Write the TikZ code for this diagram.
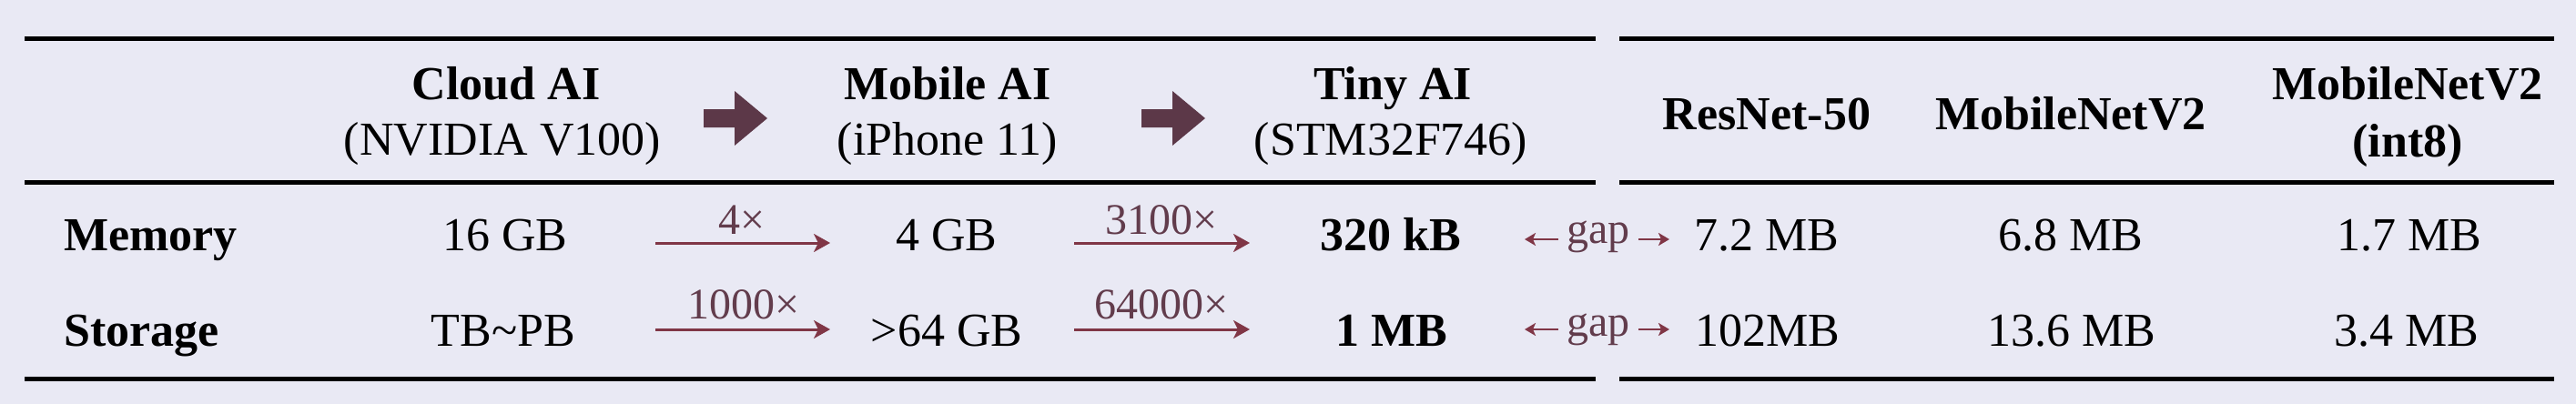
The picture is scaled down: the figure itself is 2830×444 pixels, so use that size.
\documentclass[tikz,border=0pt]{standalone}
\usepackage{fontspec}
\setmainfont{Liberation Serif}
\usetikzlibrary{arrows.meta}
\definecolor{bgc}{RGB}{233,233,244}
\definecolor{blockc}{RGB}{92,56,72}
\definecolor{thinc}{RGB}{128,54,70}
\definecolor{labc}{RGB}{98,60,76}
\tikzset{
  txt/.style={font=\fontsize{52}{60}\selectfont, inner sep=0pt, anchor=base},
  btxt/.style={txt, font=\fontsize{52}{60}\selectfont\bfseries},
  lab/.style={font=\fontsize{48}{56}\selectfont, text=labc, inner sep=0pt, anchor=base},
  rulel/.style={line width=5pt},
  thinarr/.style={thinc, line width=3pt, -{Stealth[length=18pt,width=20pt,inset=5pt]}},
  gaparr/.style={thinc, line width=2.5pt, -{Stealth[length=12pt,width=14pt,inset=3pt]}},
  blockarr/.style={fill=blockc}
}
\begin{document}
\begin{tikzpicture}[x=1pt,y=-1pt]
\fill[bgc] (0,0) rectangle (2830,444);
\useasboundingbox (0,0) rectangle (2830,444);
% rules
\draw[rulel] (27,43) -- (1753,43);
\draw[rulel] (1779,43) -- (2806,43);
\draw[rulel] (27,200) -- (1753,200);
\draw[rulel] (1779,200) -- (2806,200);
\draw[rulel] (27,416) -- (1753,416);
\draw[rulel] (1779,416) -- (2806,416);
% header
\node[btxt] (h1a) at (556,110) {Cloud AI};
\node[txt]  (h1b) at (552,170) {(NVIDIA V100)};
\node[btxt] (h2a) at (1041,110) {Mobile AI};
\node[txt]  (h2b) at (1041,170) {(iPhone 11)};
\node[btxt] (h3a) at (1530,110) {Tiny AI};
\node[txt]  (h3b) at (1528,170) {(STM32F746)};
\node[btxt] (h4) at (1941,142) {ResNet-50};
\node[btxt] (h5) at (2275,142) {MobileNetV2};
\node[btxt] (h6a) at (2645,110) {MobileNetV2};
\node[btxt] (h6b) at (2645,172) {(int8)};
% block arrows
\fill[blockarr] (773,120) -- (807,120) -- (807,100) -- (843,130) -- (807,160) -- (807,140) -- (773,140) -- cycle;
\fill[blockarr] (1254,120) -- (1288,120) -- (1288,100) -- (1324,130) -- (1288,160) -- (1288,140) -- (1254,140) -- cycle;
% row labels
\node[btxt, anchor=base west] (rm) at (70,275) {Memory};
\node[btxt, anchor=base west] (rs) at (70,380) {Storage};
% memory values
\node[txt]  (m1) at (555,275) {16 GB};
\node[txt]  (m2) at (1040,275) {4 GB};
\node[btxt] (m3) at (1528,275) {320 kB};
\node[txt]  (m4) at (1941,275) {7.2 MB};
\node[txt]  (m5) at (2275,275) {6.8 MB};
\node[txt]  (m6) at (2647,275) {1.7 MB};
% storage values
\node[txt]  (s1) at (553,380) {TB\textasciitilde PB};
\node[txt]  (s2) at (1040,380) {>64 GB};
\node[btxt] (s3) at (1529,380) {1 MB};
\node[txt]  (s4) at (1942,380) {102MB};
\node[txt]  (s5) at (2276,380) {13.6 MB};
\node[txt]  (s6) at (2644,380) {3.4 MB};
% thin arrows with factors
\coordinate (am1s) at (720,267); \coordinate (am1e) at (912,267);
\coordinate (am2s) at (1180,267); \coordinate (am2e) at (1373,267);
\coordinate (as1s) at (720,362); \coordinate (as1e) at (912,362);
\coordinate (as2s) at (1180,362); \coordinate (as2e) at (1373,362);
\draw[thinarr] (am1s) -- (am1e);
\draw[thinarr] (am2s) -- (am2e);
\draw[thinarr] (as1s) -- (as1e);
\draw[thinarr] (as2s) -- (as2e);
\node[lab] (fm1) at (815,257) {4×};
\node[lab] (fm2) at (1276,257) {3100×};
\node[lab] (fs1) at (817,350) {1000×};
\node[lab] (fs2) at (1276,350) {64000×};
% gap markers
\node[lab] (gm) at (1756,267) {gap};
\node[lab] (gs) at (1756,369) {gap};
\coordinate (gml0) at (1712,263); \coordinate (gml1) at (1675,263);
\coordinate (gmr0) at (1800,263); \coordinate (gmr1) at (1834,263);
\coordinate (gsl0) at (1712,362); \coordinate (gsl1) at (1675,362);
\coordinate (gsr0) at (1800,362); \coordinate (gsr1) at (1834,362);
\draw[gaparr] (gml0) -- (gml1);
\draw[gaparr] (gmr0) -- (gmr1);
\draw[gaparr] (gsl0) -- (gsl1);
\draw[gaparr] (gsr0) -- (gsr1);
\end{tikzpicture}
\end{document}
